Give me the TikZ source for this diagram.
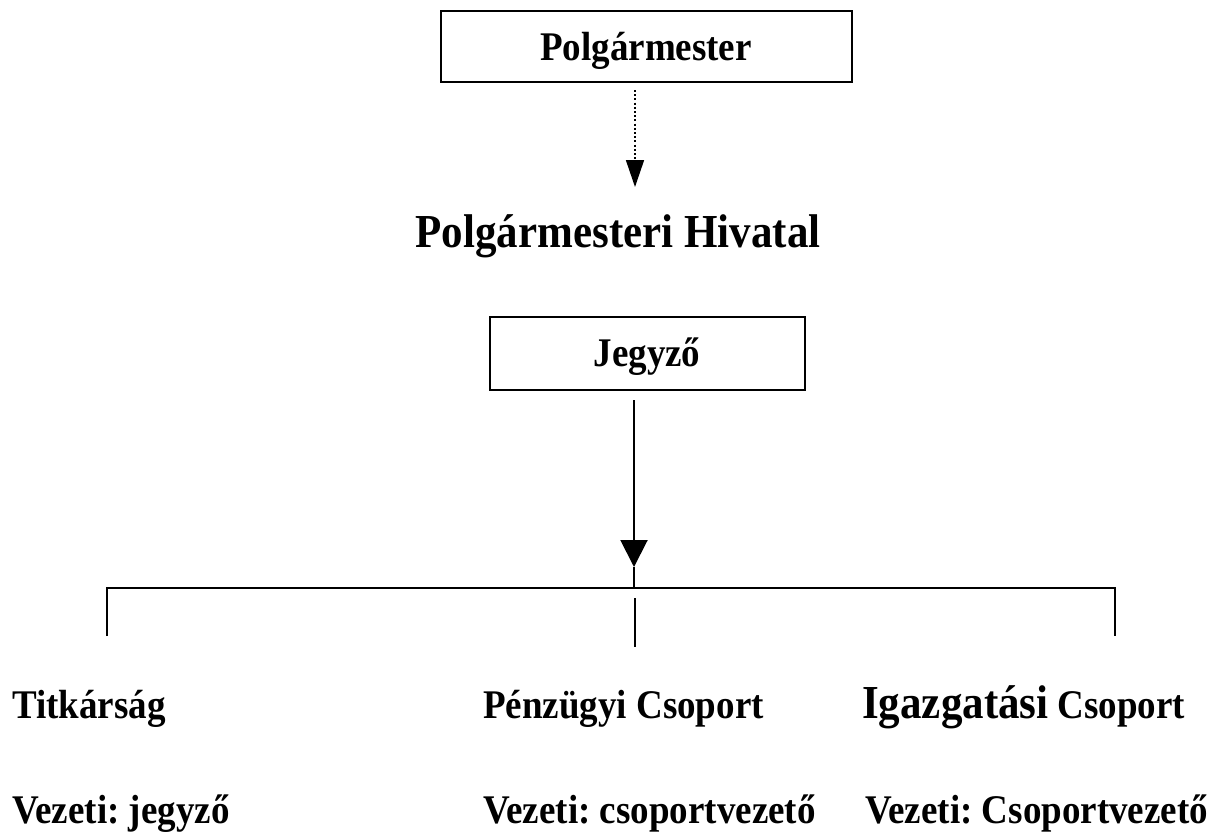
\documentclass[tikz,border=0pt]{standalone}
\usepackage{fontspec}
\setmainfont{Liberation Serif}
\usetikzlibrary{arrows.meta}
\newcommand\talltext[1]{\scalebox{1}[1.1]{#1}}
\frenchspacing
\begin{document}
\begin{tikzpicture}[x=1pt,y=-1pt,
  base/.style={font=\bfseries\fontsize{37}{40}\selectfont, inner sep=0pt, anchor=base west},
  big/.style={font=\bfseries\fontsize{43}{46}\selectfont, inner sep=0pt},
  boxed/.style={draw, line width=2pt, inner sep=0pt},
  conn/.style={line width=2pt},
  dotconn/.style={line width=1.6pt, dash pattern=on 2pt off 2.2pt, -{Triangle[width=18pt,length=27pt]}},
  solidarrow/.style={line width=2pt, -{Triangle[width=27pt,length=27pt]}}]
\useasboundingbox (0,0) rectangle (1227,833);
% top box
\node[boxed, minimum width=411pt, minimum height=71pt] (pm) at (646.5,46.5) {};
\node[base, anchor=base] (pmt) at (646,60) {\talltext{Polgármester}};
% title
\node[big, anchor=base] (hiv) at (618,247) {\talltext{Polgármesteri Hivatal}};
% jegyzo box
\node[boxed, minimum width=315pt, minimum height=73pt] (jz) at (647.5,353.5) {};
\node[base, anchor=base] (jzt) at (647,366) {\talltext{Jegyző}};
% connectors
\coordinate (d1) at (635,90);
\coordinate (d2) at (635,187);
\draw[dotconn] (d1) -- (d2);
\coordinate (s1) at (634,400);
\coordinate (s2) at (634,567);
\coordinate (s3) at (634,588);
\draw[solidarrow] (s1) -- (s2);
\draw[conn] (s2) -- (s3);
\coordinate (hl) at (107,588);
\coordinate (hr) at (1115,588);
\coordinate (l2) at (107,636);
\coordinate (r2) at (1115,636);
\draw[conn] (l2) -- (hl) -- (hr) -- (r2);
\coordinate (m1) at (635,598);
\coordinate (m2) at (635,647);
\draw[conn] (m1) -- (m2);
% labels
\node[base] (tit) at (12,718) {\talltext{Titkárság}};
\node[base] (pen) at (483,718) {\talltext{Pénzügyi Csoport}};
\node[base] (igz) at (862,718) {\talltext{{\fontsize{43}{46}\selectfont Igazgatási} Csoport}};
\node[base] (v1) at (12,823) {\talltext{Vezeti: jegyző}};
\node[base] (v2) at (483,823) {\talltext{Vezeti: csoportvezető}};
\node[base] (v3) at (865,823) {\talltext{Vezeti: Csoportvezető}};
\end{tikzpicture}
\end{document}
